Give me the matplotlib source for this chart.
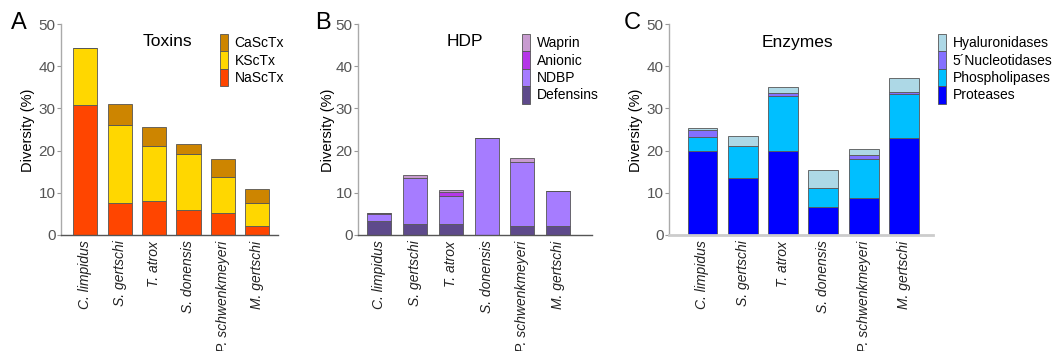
import matplotlib
matplotlib.use('Agg')
import matplotlib.pyplot as plt
import numpy as np

plt.rcParams['font.family'] = ['Liberation Sans', 'DejaVu Sans']

species = ['C. limpidus', 'S. gertschi', 'T. atrox', 'S. donensis',
           'P. schwenkmeyeri', 'M. gertschi']

# Toxins (segment heights, % diversity)
nasctx = [30.8, 7.7, 8.1, 5.9, 5.1, 2.2]
ksctx = [13.5, 18.3, 13.1, 13.2, 8.6, 5.4]
casctx = [0.0, 5.1, 4.5, 2.5, 4.4, 3.4]

# HDP
defensins = [3.2, 2.6, 2.6, 0.0, 2.2, 2.2]
ndbp = [1.7, 10.9, 6.7, 23.1, 15.0, 8.2]
anionic = [0.4, 0.0, 0.9, 0.0, 0.0, 0.0]
waprin = [0.0, 0.8, 0.5, 0.0, 1.0, 0.0]

# Enzymes
proteases = [19.8, 13.5, 20.0, 6.7, 8.8, 23.1]
phospholipases = [3.5, 7.5, 13.0, 4.5, 9.3, 10.3]
nucleotidases = [1.7, 0.0, 0.7, 0.0, 0.9, 0.6]
hyaluronidases = [0.3, 2.5, 1.3, 4.3, 1.3, 3.3]

W, H = 1052, 351
fig = plt.figure(figsize=(W / 100, H / 100), dpi=100)


def fx(px):
    return px / W


def fy(py):
    return 1 - py / H


panels = [
    dict(left=61, right=278, xlim=(-0.7, 5.6), width=0.70,
         series=[nasctx, ksctx, casctx],
         labels=['NaScTx', 'KScTx', 'CaScTx'],
         colors=['#FF4500', '#FFD700', '#CD8500'],
         title='Toxins', tx=167, letter='A', lx=19, ylx=28,
         legx=220, bottom_spine=('#555555', 1.0)),
    dict(left=358, right=592, xlim=(-0.6, 5.95), width=0.67,
         series=[defensins, ndbp, anionic, waprin],
         labels=['Defensins', 'NDBP', 'Anionic', 'Waprin'],
         colors=['#5E4A8B', '#A67CFF', '#B536E8', '#C89BD0'],
         title='HDP', tx=465, letter='B', lx=323, ylx=328,
         legx=522, bottom_spine=('#555555', 1.0)),
    dict(left=669, right=933, xlim=(-0.83, 5.72), width=0.74,
         series=[proteases, phospholipases, nucleotidases, hyaluronidases],
         labels=['Proteases', 'Phospholipases', '5\u00b4Nucleotidases', 'Hyaluronidases'],
         colors=['#0000FF', '#00BFFF', '#8470FF', '#ADD8E6'],
         title='Enzymes', tx=797, letter='C', lx=632, ylx=636,
         legx=938, bottom_spine=('#cccccc', 2.0)),
]

top_px, bot_px = 24, 235
x = np.arange(len(species))

for p in panels:
    ax = fig.add_axes([fx(p['left']), fy(bot_px), fx(p['right'] - p['left']),
                       (bot_px - top_px) / H])
    bottom = np.zeros(len(species))
    handles = []
    for vals, lab, col in zip(p['series'], p['labels'], p['colors']):
        vals = np.array(vals)
        b = ax.bar(x, vals, p['width'], bottom=bottom, color=col,
                   edgecolor='#555555', linewidth=0.6, label=lab)
        handles.append(b)
        bottom = bottom + vals
    ax.set_xlim(*p['xlim'])
    ax.set_ylim(0, 50)
    ax.set_yticks([0, 10, 20, 30, 40, 50])
    ax.set_xticks(x)
    ax.set_xticklabels(species, rotation=90, style='italic', fontsize=10,
                       color='#222222')
    ax.tick_params(axis='x', length=0, pad=4)
    ax.tick_params(axis='y', length=3, width=0.8, color='#999999',
                   labelcolor='#555555', labelsize=11, pad=1)
    for s in ['top', 'right']:
        ax.spines[s].set_visible(False)
    ax.spines['left'].set_color('#aaaaaa')
    ax.spines['left'].set_linewidth(1.0)
    ax.spines['bottom'].set_color(p['bottom_spine'][0])
    ax.spines['bottom'].set_linewidth(p['bottom_spine'][1])

    fig.text(fx(p['tx']), fy(42), p['title'], ha='center', va='center',
             fontsize=12.5)
    fig.text(fx(p['lx']), fy(23), p['letter'], ha='center', va='center',
             fontsize=17)
    fig.text(fx(p['ylx']), fy(130), 'Diversity (%)', rotation=90,
             ha='center', va='center', fontsize=10.5)

    leg = fig.legend(handles[::-1], p['labels'][::-1], loc='upper left',
                     bbox_to_anchor=(fx(p['legx']), fy(34)), frameon=False,
                     fontsize=10, handlelength=0.6, handleheight=1.55,
                     handletextpad=0.45, labelspacing=0, borderpad=0,
                     borderaxespad=0)

fig.savefig('out.png', dpi=100)
